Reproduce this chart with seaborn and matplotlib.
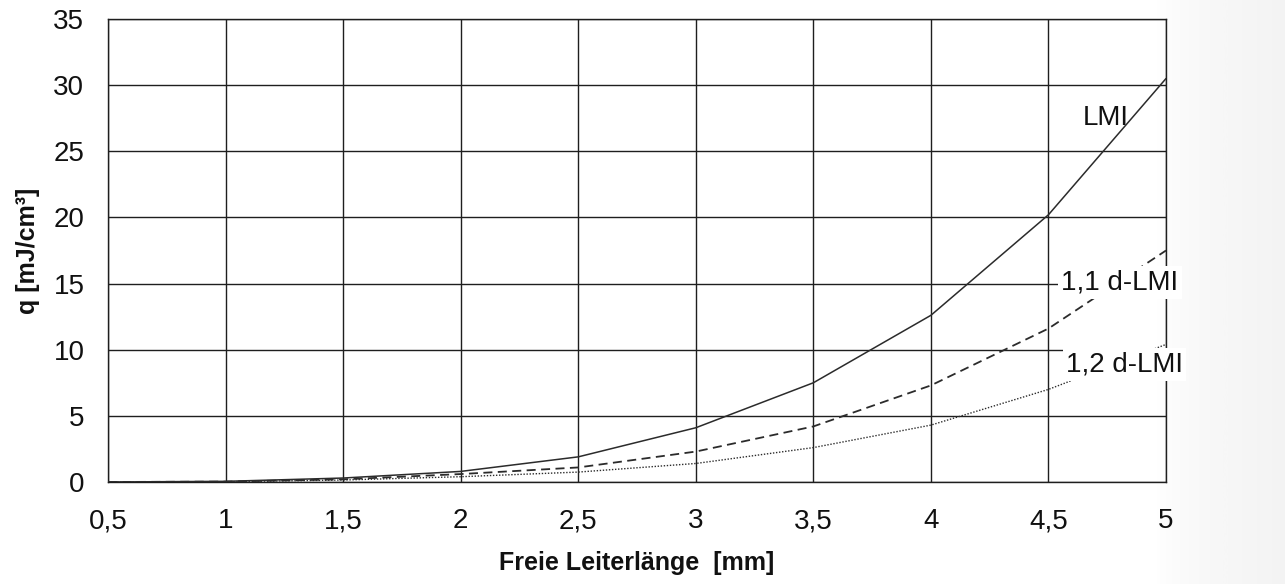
import numpy as np
import pandas as pd
import matplotlib
matplotlib.use("Agg")
import matplotlib.pyplot as plt
import seaborn as sns

# Free conductor length [mm] and energy density q [mJ/cm³] per insulation variant
laenge = [0.5, 1.0, 1.5, 2.0, 2.5, 3.0, 3.5, 4.0, 4.5, 5.0]
q_lmi = [0.0, 0.05, 0.3, 0.8, 1.9, 4.1, 7.5, 12.6, 20.2, 30.5]
q_lmi_11 = [0.0, 0.03, 0.2, 0.6, 1.1, 2.3, 4.2, 7.3, 11.6, 17.5]
q_lmi_12 = [0.0, 0.02, 0.15, 0.4, 0.75, 1.4, 2.6, 4.3, 7.0, 10.4]
serien = ["LMI", "1,1 d-LMI", "1,2 d-LMI"]

x_ticks = [0.5, 1.0, 1.5, 2.0, 2.5, 3.0, 3.5, 4.0, 4.5, 5.0]
x_tick_labels = ["0,5", "1", "1,5", "2", "2,5", "3", "3,5", "4", "4,5", "5"]
y_ticks = [0, 5, 10, 15, 20, 25, 30, 35]
y_tick_labels = ["0", "5", "10", "15", "20", "25", "30", "35"]

df = pd.DataFrame({
    "laenge": laenge * 3,
    "q": q_lmi + q_lmi_11 + q_lmi_12,
    "serie": [s for s in serien for _ in laenge],
})

sns.set_theme(style="white")
plt.rcParams["font.family"] = ["Liberation Sans", "DejaVu Sans"]

ink = "#1e1e1e"
txt = "#111111"
fig = plt.figure(figsize=(12.85, 5.84), dpi=100)

# faint grey shading along the right page edge
shade = fig.add_axes([0.90, 0.0, 0.10, 1.0], zorder=-5)
grad = np.linspace(0.0, 1.0, 200)[None, :] ** 0.6
shade.imshow(grad, aspect="auto", cmap="Greys", vmin=0, vmax=10, extent=[0, 1, 0, 1])
shade.set_axis_off()

ax = fig.add_axes([108 / 1285, 1 - 482 / 584, (1166 - 108) / 1285, (482 - 19) / 584])
ax.set_facecolor("none")

sns.lineplot(
    data=df, x="laenge", y="q", style="serie", style_order=serien,
    dashes={"LMI": "", "1,1 d-LMI": (5, 3), "1,2 d-LMI": (1, 1.2)},
    color="#2b2b2b", legend=False, ax=ax, zorder=3,
)
for line, lw in zip(ax.lines, [1.1, 1.3, 1.0]):
    line.set_linewidth(lw)

ax.set_xlim(0.5, 5.0)
ax.set_ylim(0, 35)
ax.set_xticks(x_ticks)
ax.set_xticklabels(x_tick_labels)
ax.set_yticks(y_ticks)
ax.set_yticklabels(y_tick_labels)
ax.grid(True, color=ink, linewidth=1.0)
ax.set_axisbelow(True)
for sp in ax.spines.values():
    sp.set_visible(True)
    sp.set_color(ink)
    sp.set_linewidth(1.0)
ax.tick_params(axis="both", which="major", direction="out", length=5, width=1.0,
               color=ink, labelsize=20, labelcolor=txt)
ax.tick_params(axis="x", pad=14)
ax.tick_params(axis="y", pad=12)

ax.set_xlabel("Freie Leiterlänge  [mm]", fontsize=18, fontweight="bold",
              color=txt, labelpad=12)
ax.set_ylabel("q [mJ/cm³]", fontsize=18, fontweight="bold", color=txt,
              labelpad=10)

box = dict(facecolor="white", edgecolor="none", pad=2.5)
ax.text(4.745, 27.5, "LMI", fontsize=20, ha="center", va="center", color=txt)
ax.text(4.555, 15.1, "1,1 d-LMI", fontsize=20, ha="left", va="center",
        color=txt, bbox=box, zorder=10, clip_on=False)
ax.text(4.575, 8.9, "1,2 d-LMI", fontsize=20, ha="left", va="center",
        color=txt, bbox=box, zorder=10, clip_on=False)

fig.savefig("out.png", dpi=100)
